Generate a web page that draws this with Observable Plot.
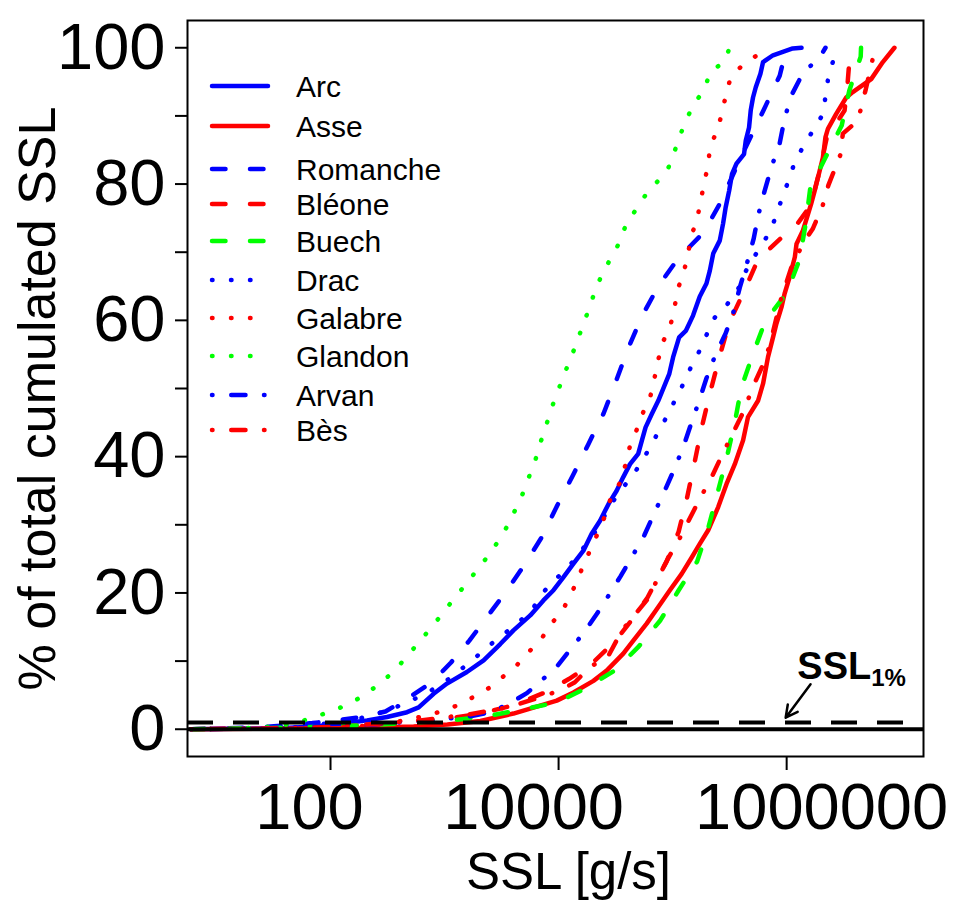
<!DOCTYPE html>
<html>
<head>
<meta charset="utf-8">
<script src="https://cdn.jsdelivr.net/npm/d3@7"></script>
<script src="https://cdn.jsdelivr.net/npm/@observablehq/plot@0.6"></script>
<style>
  html, body { margin: 0; padding: 0; background: #ffffff; }
  #chart { width: 961px; height: 908px; }
</style>
</head>
<body>
<div id="chart"></div>
<script>
// ---------------- data ----------------
const seriesNames  = ["Arc", "Asse", "Romanche", "Bléone", "Buech", "Drac", "Galabre", "Glandon", "Arvan", "Bès"];
const seriesColors = ["#0000ff", "#ff0000", "#0000ff", "#ff0000", "#00ff00", "#0000ff", "#ff0000", "#00ff00", "#0000ff", "#ff0000"];
const seriesLty    = ["solid", "solid", "dashed", "dashed", "dashed", "dotted", "dotted", "dotted", "dotdash", "dotdash"];

const arcSSL = [6, 36.5, 71.4, 122, 209, 313, 469, 593, 802, 1050, 1570, 2200, 3080, 4020, 5640, 7360, 9020, 11000, 13500, 16500, 19500, 23100, 27500, 32300, 36900, 42300, 49900, 53800, 57900, 65800, 74800, 83800, 93300, 101000, 114000, 131000, 151000, 173000, 198000, 212000, 227000, 259000, 277000, 292000, 313000, 332000, 363000, 423000, 438000, 468000, 484000, 507000, 536000, 589000, 621000, 759000, 1130000, 1350000];
const arcPct = [0, 0.15, 0.4, 0.8, 1.3, 1.8, 2.5, 3.2, 5.2, 6.7, 8.4, 10.1, 12.5, 14.5, 16.7, 18.9, 20.4, 22.3, 24.3, 26.2, 28.7, 30.6, 33.1, 35.0, 37.0, 38.9, 40.4, 42.4, 44.3, 46.3, 48.2, 50.2, 52.1, 54.6, 57.5, 58.5, 60.7, 63.5, 65.4, 67.3, 69.8, 71.7, 74.2, 76.6, 79.0, 81.5, 83.0, 84.4, 86.4, 88.3, 90.8, 92.7, 94.2, 96.2, 97.9, 98.9, 99.9, 100];

const asseSSL = [6, 140, 536, 1060, 2060, 4020, 9640, 13500, 20200, 26400, 36900, 45200, 59200, 74600, 94600, 120000, 147000, 173000, 205000, 251000, 297000, 351000, 415000, 458000, 561000, 621000, 686000, 759000, 813000, 900000, 959000, 1060000, 1180000, 1220000, 1390000, 1540000, 1640000, 1760000, 1950000, 2080000, 2190000, 2300000, 2720000, 3330000, 3800000, 5510000, 6970000, 8810000];
const assePct = [0, 0.15, 0.4, 0.7, 1.2, 2.3, 4.2, 5.4, 7.1, 8.6, 11.1, 13.0, 15.5, 17.9, 20.4, 22.8, 25.2, 27.2, 29.2, 32.6, 36.0, 38.9, 42.4, 45.8, 48.2, 50.7, 54.6, 57.5, 59.5, 61.9, 63.9, 66.3, 69.3, 71.2, 73.2, 75.6, 77.1, 79.0, 82.0, 83.9, 86.9, 88.1, 90.3, 92.7, 93.5, 95.4, 97.9, 100];

const romancheSSL = [6, 25.1, 69.2, 173, 303, 484, 776, 1140, 1650, 2390, 3460, 5010, 7190, 9640, 13300, 18200, 24900, 32100, 40800, 53800, 75500, 112000, 187000, 261000, 404000, 630000, 869000, 1000000];
const romanchePct = [0, 0.3, 0.9, 1.7, 2.6, 4.6, 6.9, 9.8, 13.0, 16.6, 20.2, 24.1, 28.3, 32.7, 37.2, 41.8, 46.4, 51.2, 55.9, 60.6, 65.1, 69.1, 72.9, 77.2, 84.2, 90.9, 95.9, 100];

const bleoneSSL = [6, 55, 275, 918, 2060, 4000, 7620, 12400, 19200, 31700, 44500, 60100, 88500, 113000, 134000, 156000, 180000, 214000, 259000, 313000, 421000, 561000, 923000, 1220000, 1620000, 1950000, 2240000, 3220000, 3420000, 3560000, 3630000];
const bleonePct = [0, 0.2, 0.7, 1.4, 2.3, 3.5, 5.4, 7.4, 9.5, 13.0, 16.2, 19.3, 24.6, 29.0, 34.0, 39.2, 44.3, 49.5, 54.8, 59.6, 64.2, 68.9, 72.3, 74.0, 76.8, 82.0, 86.7, 90.8, 94.7, 98.4, 100];

const buechSSL = [6, 55, 275, 1140, 2340, 4760, 9550, 17300, 31600, 50800, 78200, 113000, 164000, 205000, 247000, 297000, 351000, 400000, 507000, 649000, 1000000, 1290000, 1470000, 1610000, 2190000, 3040000, 3540000, 4460000, 4490000];
const buechPct = [0, 0.25, 0.7, 1.3, 1.9, 2.9, 3.9, 6.0, 8.7, 12.2, 16.0, 20.4, 24.6, 29.5, 34.6, 39.7, 45.0, 50.1, 55.1, 59.9, 64.0, 68.8, 74.2, 79.4, 83.9, 88.6, 93.7, 98.7, 100];

const dracSSL = [6, 31.6, 122, 232, 410, 702, 1120, 1420, 1770, 2780, 3570, 4540, 5820, 7620, 13200, 20000, 30200, 36900, 45800, 55200, 65800, 77800, 92300, 108000, 127000, 147000, 173000, 200000, 234000, 297000, 388000, 421000, 501000, 604000, 728000, 817000, 929000, 1060000, 1180000, 1410000, 1720000, 2090000, 2190000, 2320000, 2580000, 2910000];
const dracPct = [0, 0.2, 1.0, 2.0, 3.5, 5.3, 7.5, 8.9, 10.2, 13.0, 14.4, 15.8, 17.5, 20.4, 24.5, 28.4, 33.5, 35.5, 37.5, 39.6, 41.9, 44.1, 46.4, 48.7, 51.0, 53.4, 55.6, 58.0, 60.4, 62.2, 65.0, 66.7, 68.9, 71.1, 73.2, 75.7, 78.3, 80.9, 83.3, 85.6, 88.0, 90.3, 92.9, 95.7, 98.3, 100];

const galabreSSL = [6, 100, 200, 358, 508, 724, 1030, 1420, 1910, 2600, 3360, 4360, 5450, 7030, 8550, 10700, 12700, 14700, 16800, 19600, 22800, 26100, 29000, 35000, 38700, 42300, 48600, 55200, 64100, 69500, 75000, 82200, 95900, 104000, 111000, 125000, 136000, 145000, 164000, 176000, 189000, 204000, 213000, 247000, 272000, 294000, 325000, 421000, 573000, 617000];
const galabrePct = [0, 0.2, 0.5, 1.0, 1.5, 2.1, 2.8, 3.8, 5.0, 6.3, 7.9, 9.5, 11.3, 13.2, 15.4, 17.3, 19.6, 22.0, 24.4, 26.8, 29.3, 31.7, 34.2, 36.3, 38.9, 41.6, 44.0, 46.5, 49.0, 51.6, 54.3, 56.8, 59.3, 61.9, 64.6, 67.0, 69.6, 72.3, 74.8, 77.5, 80.1, 82.7, 85.4, 88.0, 90.5, 93.2, 95.8, 97.6, 99.1, 100];

const glandonSSL = [6, 15.8, 31.6, 50.1, 69.2, 92.3, 123, 160, 205, 261, 322, 396, 482, 589, 721, 881, 1080, 1330, 1650, 2030, 2520, 3030, 3640, 4250, 4920, 5550, 6310, 6980, 7820, 8710, 9910, 11200, 12900, 14600, 16500, 18800, 21000, 24300, 28700, 34100, 38700, 47000, 56900, 71300, 90400, 103000, 116000, 133000, 156000, 191000, 212000, 286000, 316000];
const glandonPct = [0, 0.1, 0.4, 0.9, 1.7, 2.4, 3.2, 4.1, 5.2, 6.5, 7.8, 9.3, 10.9, 12.7, 14.4, 16.2, 18.1, 20.0, 21.9, 23.9, 25.8, 27.9, 30.1, 32.5, 34.8, 37.2, 39.7, 42.2, 44.7, 47.2, 49.7, 52.1, 54.6, 57.0, 59.5, 62.0, 64.5, 66.9, 69.1, 71.4, 73.9, 76.1, 78.2, 80.1, 82.1, 84.6, 87.1, 89.6, 91.9, 93.9, 96.4, 98.0, 100];

const arvanSSL = [6, 36.3, 224, 750, 1680, 2510, 3640, 5270, 7240, 9660, 12800, 16500, 21600, 27400, 34800, 44300, 56600, 68600, 84700, 103000, 124000, 145000, 170000, 198000, 238000, 292000, 344000, 388000, 451000, 514000, 565000, 641000, 740000, 869000, 959000, 1100000, 1390000, 1950000, 2190000];
const arvanPct = [0, 0.2, 0.7, 1.3, 1.9, 2.5, 3.7, 5.3, 7.3, 9.2, 11.8, 14.1, 16.9, 19.6, 22.4, 25.4, 28.5, 31.6, 34.9, 38.1, 41.4, 44.8, 48.1, 51.5, 55.0, 58.1, 61.4, 64.8, 68.5, 72.0, 75.5, 79.0, 82.6, 86.0, 89.6, 93.0, 96.3, 98.6, 100];

const besSSL = [6, 63, 150, 614, 1680, 3770, 6890, 10300, 13900, 19300, 26400, 36000, 63100, 72300, 90800, 116000, 142000, 177000, 223000, 274000, 339000, 421000, 504000, 617000, 710000, 885000, 1110000, 1440000, 1690000, 2050000, 2320000, 2960000, 3110000, 4210000, 4940000, 5850000, 6010000];
const besPct = [0, 0.2, 0.5, 1.3, 2.2, 3.3, 4.7, 5.7, 6.9, 9.3, 10.3, 14.5, 19.5, 21.8, 25.0, 28.1, 31.0, 34.1, 37.2, 40.4, 43.5, 46.7, 50.2, 53.4, 56.3, 62.9, 68.0, 71.7, 73.4, 76.6, 79.8, 84.3, 87.4, 89.3, 93.9, 99.3, 100];

const xTicks = [100, 10000, 1000000];
const xTickLabels = ["100", "10000", "1000000"];
const yTicks = [0, 10, 20, 30, 40, 50, 60, 70, 80, 90, 100];
const yTickLabels = [0, 20, 40, 60, 80, 100];
const xTitle = "SSL [g/s]";
const yTitle = "% of total cumulated SSL";

const refLevels = [0, 1];              // solid line at 0 %, dashed SSL1% line at 1 %
const annotLabel = ["SSL", "1%"];
const annotSSL = [1240000];
const annotPct = [9.2];
const arrowSSL = [1620000, 980000];    // tail, head
const arrowPct = [6.6, 1.7];

// ---------------- layout / style ----------------
const xLabelShift = [-21, -25, 35];    // horizontal placement of the x tick labels as in the reference
const legendRowY = [86, 126, 169, 204, 241, 280, 318, 356, 395, 430];
const dashOf = {
  solid: null,
  dashed: "13.5,24.5",
  dotted: "0.5,18.5",
  dotdash: "0.5,18.75,14.25,18.5"
};
const LW = 4.5;

// ---------------- assemble ----------------
const seriesSSL = [arcSSL, asseSSL, romancheSSL, bleoneSSL, buechSSL, dracSSL, galabreSSL, glandonSSL, arvanSSL, besSSL];
const seriesPct = [arcPct, assePct, romanchePct, bleonePct, buechPct, dracPct, galabrePct, glandonPct, arvanPct, besPct];

const curveMarks = seriesNames.map((name, i) => {
  const rows = seriesSSL[i].map((v, j) => ({series: name, ssl: v, pct: seriesPct[i][j]}));
  return Plot.line(rows, {
    x: "ssl", y: "pct",
    stroke: seriesColors[i],
    strokeWidth: LW,
    strokeDasharray: dashOf[seriesLty[i]],
    strokeLinecap: "round",
    strokeLinejoin: "round"
  });
});

const xLabelMarks = xTicks.map((t, i) => Plot.text([{v: t, label: xTickLabels[i]}], {
  x: "v", frameAnchor: "bottom", text: "label", lineAnchor: "top",
  dy: 26, dx: xLabelShift[i], fontSize: 65
}));

const annotRows = [{ssl: annotSSL[0], pct: annotPct[0], label: annotLabel[0]}];
const arrowRows = [{x1: arrowSSL[0], y1: arrowPct[0], x2: arrowSSL[1], y2: arrowPct[1]}];

const chart = Plot.plot({
  width: 961,
  height: 908,
  marginLeft: 187,
  marginRight: 38,
  marginTop: 20,
  marginBottom: 152,
  style: {fontFamily: "'Liberation Sans', Arial, sans-serif", background: "#ffffff", color: "#000000"},
  x: {type: "log", domain: [5.57, 1.585e7]},
  y: {domain: [-4, 104]},
  marks: [
    ...curveMarks,
    Plot.ruleY([refLevels[0]], {stroke: "#000", strokeWidth: 4}),
    Plot.ruleY([refLevels[1]], {stroke: "#000", strokeWidth: 4, strokeDasharray: "26,20"}),
    Plot.frame({stroke: "#000", strokeWidth: 2}),
    Plot.axisY({ticks: yTicks, tickSize: 12, tickPadding: 10, strokeWidth: 2, fontSize: 65,
      tickFormat: d => yTickLabels.includes(d) ? String(d) : "", label: null}),
    Plot.axisX({ticks: xTicks, tickSize: 14, strokeWidth: 2, tickFormat: () => "", label: null}),
    ...xLabelMarks,
    Plot.text([xTitle], {frameAnchor: "bottom", dy: 116, dx: 13, fontSize: 51, lineAnchor: "middle", text: d => d}),
    Plot.text([yTitle], {frameAnchor: "left", dx: -149, dy: 10, rotate: -90, fontSize: 52, textAnchor: "middle", lineAnchor: "middle", text: d => d}),
    Plot.text(annotRows, {x: "ssl", y: "pct", text: "label", textAnchor: "start", lineAnchor: "middle",
      fontSize: 38, fontWeight: "bold"}),
    Plot.arrow(arrowRows, {x1: "x1", y1: "y1", x2: "x2", y2: "y2", stroke: "#000", strokeWidth: 2.5,
      headLength: 8, headAngle: 55})
  ]
});

document.getElementById("chart").appendChild(chart);

// subscript for SSL1%
d3.select(chart).selectAll("text")
  .filter(function () { return this.textContent === annotLabel[0]; })
  .each(function () {
    const t = d3.select(this);
    t.text(null);
    t.append("tspan").text(annotLabel[0]);
    t.append("tspan").attr("font-size", 24).attr("dy", "0.3em").text(annotLabel[1]);
  });

// legend (inside the plot, top-left, as in the reference)
const lg = d3.select(chart).append("g").attr("aria-label", "legend");
seriesNames.forEach((name, i) => {
  lg.append("line")
    .attr("x1", 212).attr("x2", 268)
    .attr("y1", legendRowY[i]).attr("y2", legendRowY[i])
    .attr("stroke", seriesColors[i])
    .attr("stroke-width", LW)
    .attr("stroke-linecap", "round")
    .attr("stroke-dasharray", dashOf[seriesLty[i]]);
  lg.append("text")
    .attr("x", 296).attr("y", legendRowY[i])
    .attr("dy", "0.35em")
    .attr("text-anchor", "start")
    .attr("font-size", 30)
    .attr("fill", "#000")
    .text(name);
});
</script>
</body>
</html>
